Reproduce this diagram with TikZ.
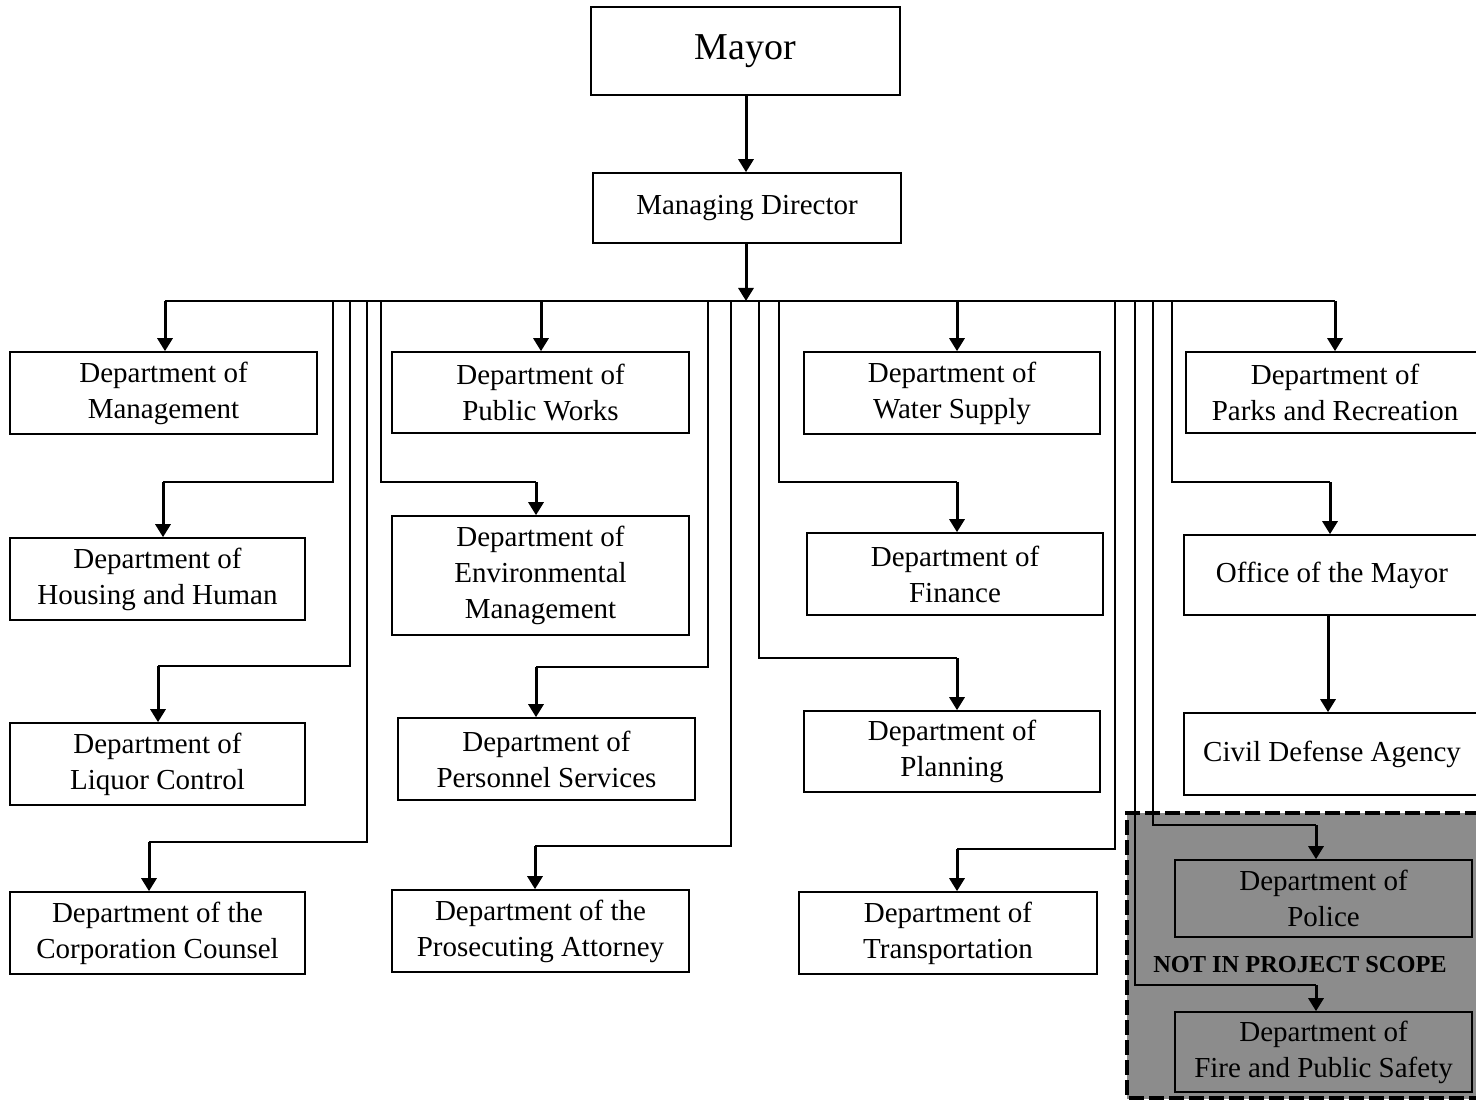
\documentclass[tikz,border=0pt]{standalone}
\usepackage{fontspec}
\setmainfont{Liberation Serif}
\usetikzlibrary{arrows.meta}
\begin{document}
\begin{tikzpicture}[x=0.5pt,y=-0.5pt,
  box/.style={draw, line width=0.8pt, align=center, inner sep=0pt,
              font=\fontsize{14.5}{18}\selectfont},
  sz/.style 2 args={minimum width={0.5pt*#1}, minimum height={0.5pt*#2}},
  feed/.style={line width=0.7pt},
  bus/.style={line width=1pt},
  arr/.style={line width=1.5pt, -{Triangle[length=6.5pt,width=7.5pt]}},
  scopeframe/.style={line width=2pt, dash pattern=on 7.5pt off 2.5pt},
]
\useasboundingbox (0,0) rectangle (1476,1101);

% out-of-scope region
\fill[black!45] (1127,813) rectangle (1500,1099);
\draw[scopeframe] (1500,813) -- (1127,813) -- (1127,1098) -- (1500,1098);

% top
\node[box,sz={309}{88},font=\fontsize{19}{22}\selectfont] (mayor) at (745.5,51) {Mayor};
\node[box,sz={308}{70}] (md) at (747,208) {Managing Director};

% column 1
\node[box,sz={307}{82}] (mgmt) at (163.5,393) {Department of\\Management};
\node[box,sz={295}{82}] (housing) at (157.5,579) {Department of\\Housing and Human};
\node[box,sz={295}{82}] (liquor) at (157.5,764) {Department of\\Liquor Control};
\node[box,sz={295}{82}] (corp) at (157.5,933) {Department of the\\Corporation Counsel};

% column 2
\node[box,sz={297}{81}] (pw) at (540.5,392.5) {Department of\\Public Works};
\node[box,sz={297}{119}] (env) at (540.5,575.5) {Department of\\Environmental\\Management};
\node[box,sz={297}{82}] (pers) at (546.5,759) {Department of\\Personnel Services};
\node[box,sz={297}{82}] (pros) at (540.5,931) {Department of the\\Prosecuting Attorney};

% column 3
\node[box,sz={296}{82}] (water) at (952,393) {Department of\\Water Supply};
\node[box,sz={296}{82}] (fin) at (955,574) {Department of\\Finance};
\node[box,sz={296}{81}] (plan) at (952,751.5) {Department of\\Planning};
\node[box,sz={298}{82}] (trans) at (948,933) {Department of\\Transportation};

% column 4
\node[box,sz={298}{81}] (parks) at (1335,392.5) {Department of\\Parks and Recreation};
\node[box,sz={296}{80}] (office) at (1332,575) {Office of the Mayor};
\node[box,sz={296}{82}] (civil) at (1332,754) {Civil Defense Agency};
\node[box,sz={297}{77}] (police) at (1323.5,898.5) {Department of\\Police};
\node[box,sz={297}{80}] (fire) at (1323.5,1052) {Department of\\Fire and Public Safety};
\node[font=\bfseries\fontsize{12.2}{14}\selectfont, inner sep=0pt] (scope) at (1300,965) {NOT IN PROJECT SCOPE};

% spine
\coordinate (bmid) at (746,301);
\draw[arr] (mayor.south -| bmid) -- (md.north -| bmid);
\draw[arr] (md.south -| bmid) -- (bmid);
\coordinate (bl) at (165,301);
\coordinate (br) at (1335,301);
\draw[bus] (bl) -- (br);

% direct drops from bus
\coordinate (d1) at (165,301);
\coordinate (d2) at (541,301);
\coordinate (d3) at (957,301);
\coordinate (d4) at (1335,301);
\draw[arr] (d1) -- (d1 |- mgmt.north);
\draw[arr] (d2) -- (d2 |- pw.north);
\draw[arr] (d3) -- (d3 |- water.north);
\draw[arr] (d4) -- (d4 |- parks.north);

% feeder routes: start on bus, corner, then arrow
\coordinate (s1) at (333,301);  \coordinate (k1) at (163,482);
\coordinate (s2) at (350,301);  \coordinate (k2) at (158,666);
\coordinate (s3) at (367,301);  \coordinate (k3) at (149,842);
\coordinate (s4) at (381,301);  \coordinate (k4) at (536,482);
\coordinate (s5) at (708,301);  \coordinate (k5) at (536,667);
\coordinate (s6) at (731,301);  \coordinate (k6) at (535,846);
\coordinate (s7) at (759,301);  \coordinate (k7) at (957,658);
\coordinate (s8) at (779,301);  \coordinate (k8) at (957,482);
\coordinate (s9) at (1115,301); \coordinate (k9) at (957,849);
\coordinate (s10) at (1135,301); \coordinate (k10) at (1316,985);
\coordinate (s11) at (1153,301); \coordinate (k11) at (1316,825);
\coordinate (s12) at (1172,301); \coordinate (k12) at (1330,482);

\draw[feed] (s1) |- (k1);  \draw[arr] (k1) -- (k1 |- housing.north);
\draw[feed] (s2) |- (k2);  \draw[arr] (k2) -- (k2 |- liquor.north);
\draw[feed] (s3) |- (k3);  \draw[arr] (k3) -- (k3 |- corp.north);
\draw[feed] (s4) |- (k4);  \draw[arr] (k4) -- (k4 |- env.north);
\draw[feed] (s5) |- (k5);  \draw[arr] (k5) -- (k5 |- pers.north);
\draw[feed] (s6) |- (k6);  \draw[arr] (k6) -- (k6 |- pros.north);
\draw[feed] (s7) |- (k7);  \draw[arr] (k7) -- (k7 |- plan.north);
\draw[feed] (s8) |- (k8);  \draw[arr] (k8) -- (k8 |- fin.north);
\draw[feed] (s9) |- (k9);  \draw[arr] (k9) -- (k9 |- trans.north);
\draw[feed] (s10) |- (k10); \draw[arr] (k10) -- (k10 |- fire.north);
\draw[feed] (s11) |- (k11); \draw[arr] (k11) -- (k11 |- police.north);
\draw[feed] (s12) |- (k12); \draw[arr] (k12) -- (k12 |- office.north);

% office -> civil defense
\coordinate (oc) at (1328,615);
\draw[arr] (oc) -- (oc |- civil.north);
\end{tikzpicture}
\end{document}
